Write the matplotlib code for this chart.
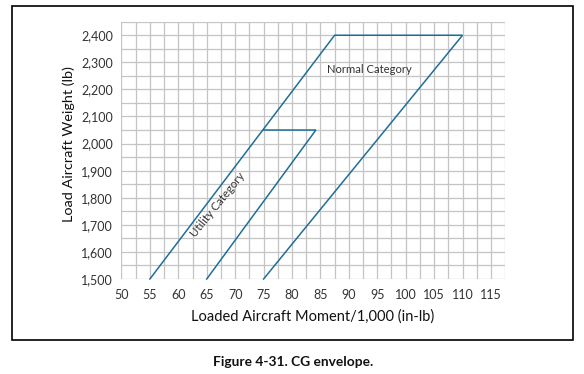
"""
CG envelope chart (loaded weight vs moment/1,000).
"""

import matplotlib as mpl
import matplotlib.pyplot as plt
import numpy as np
from matplotlib.patches import Rectangle

mpl.rcParams.update(
    {
        "font.family": ["Lato", "DejaVu Sans"],
        "font.size": 9,
        "axes.linewidth": 0,
    }
)

LINE_COLOR = "#1f6e97"
GRID_COLOR = "#c4c4c4"
TEXT_COLOR = "#333333"

# envelope outlines
normal_moment = [55, 87.5, 110, 75]
normal_weight = [1500, 2400, 2400, 1500]
utility_moment = [75, 84.2, 65]
utility_weight = [2050, 2050, 1500]

x_ticks = np.arange(50, 116, 5)
y_ticks = np.arange(1500, 2401, 100)


def fit_width(txt, target_px, renderer):
    # scale a text's font size so its unrotated length matches the reference
    rot = txt.get_rotation()
    txt.set_rotation(0)
    w = txt.get_window_extent(renderer).width
    txt.set_fontsize(txt.get_fontsize() * target_px / w)
    txt.set_rotation(rot)


fig = plt.figure(figsize=(5.84, 3.74), dpi=100)
ax = fig.add_axes([0.208, 0.254, 0.657, 0.688])

# grid: every 2.5 in moment, every 50 lb in weight
ax.set_xlim(50, 117.5)
ax.set_ylim(1500, 2450)
ax.set_xticks(x_ticks)
ax.set_yticks(y_ticks)
ax.set_xticks(np.arange(50, 117.6, 2.5), minor=True)
ax.set_yticks(np.arange(1500, 2451, 50), minor=True)
ax.grid(which="both", color=GRID_COLOR, linewidth=0.9)
ax.set_axisbelow(True)
for side in ["top", "right", "bottom", "left"]:
    ax.spines[side].set_visible(False)
ax.tick_params(which="both", length=0, colors=TEXT_COLOR, labelsize=9)
ax.tick_params(axis="x", pad=7)
ax.tick_params(axis="y", pad=6)
ax.set_yticklabels([f"{v:,}" for v in y_ticks])

ax.plot(normal_moment, normal_weight, color=LINE_COLOR, lw=1.1, solid_joinstyle="miter", clip_on=False)
ax.plot(utility_moment, utility_weight, color=LINE_COLOR, lw=1.1, solid_joinstyle="miter", clip_on=False)

t_normal = ax.text(93.7, 2273, "Normal Category", ha="center", va="center",
                   color=TEXT_COLOR, fontsize=9)
t_utility = ax.text(67.0, 1776, "Utility Category", ha="center", va="center", rotation=51,
                    rotation_mode="anchor", color=TEXT_COLOR, fontsize=9)

t_ylab = fig.text(0.118, 0.615, "Load Aircraft Weight (lb)", rotation=90, ha="center",
                  va="center", fontsize=11, color="#111111")
t_xlab = fig.text(0.536, 0.153, "Loaded Aircraft Moment/1,000 (in-lb)", ha="center",
                  va="center", fontsize=11, color="#111111")
t_cap = fig.text(0.502, 0.033, "Figure 4-31. CG envelope.", ha="center", va="center",
                 fontsize=9, fontweight="bold", color="#111111")

renderer = fig.canvas.get_renderer()
fit_width(t_normal, 85, renderer)
fit_width(t_utility, 80, renderer)
fit_width(t_ylab, 155, renderer)
fit_width(t_xlab, 242, renderer)
fit_width(t_cap, 160, renderer)

fig.patches.append(
    Rectangle((0.0205, 0.0909), 0.961, 0.893, transform=fig.transFigure,
              fill=False, edgecolor="black", linewidth=1.2)
)

plt.savefig("out.png", dpi=100)
plt.close()
